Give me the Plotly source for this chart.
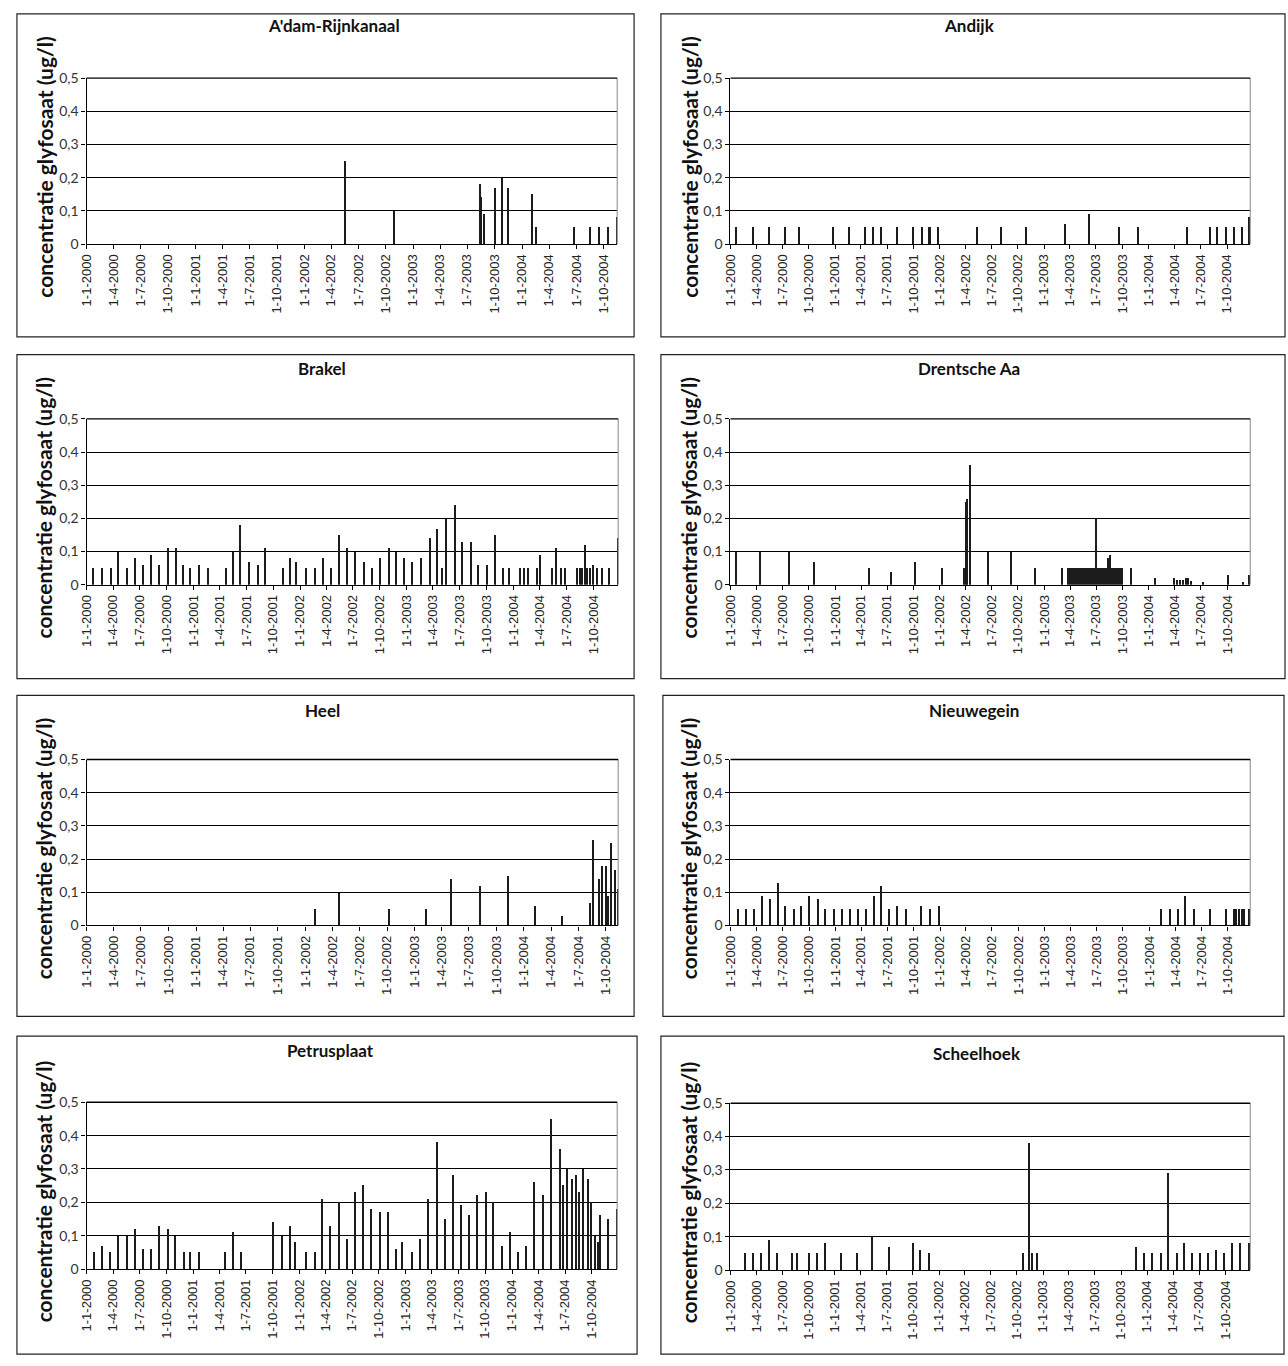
import plotly.graph_objects as go
from datetime import datetime

W, H = 1288, 1366

# ---------------- data ----------------
x_tick_labels = ["1-1-2000", "1-4-2000", "1-7-2000", "1-10-2000",
                 "1-1-2001", "1-4-2001", "1-7-2001", "1-10-2001",
                 "1-1-2002", "1-4-2002", "1-7-2002", "1-10-2002",
                 "1-1-2003", "1-4-2003", "1-7-2003", "1-10-2003",
                 "1-1-2004", "1-4-2004", "1-7-2004", "1-10-2004"]
y_tick_values = [0, 0.1, 0.2, 0.3, 0.4, 0.5]
y_tick_labels = ["0", "0,1", "0,2", "0,3", "0,4", "0,5"]

stations = ["A'dam-Rijnkanaal", "Andijk", "Brakel", "Drentsche Aa",
            "Heel", "Nieuwegein", "Petrusplaat", "Scheelhoek"]

adam_dates = ["2002-05-16", "2002-10-29", "2003-08-11", "2003-08-17", "2003-08-25",
              "2003-10-01", "2003-10-24", "2003-11-14", "2004-02-04", "2004-02-16",
              "2004-06-21", "2004-08-16", "2004-09-13", "2004-10-14", "2004-11-13"]
adam_values = [0.25, 0.10, 0.18, 0.14, 0.09, 0.17, 0.20, 0.17, 0.15, 0.05,
               0.05, 0.05, 0.05, 0.05, 0.08]

andijk_dates = ["2000-01-23", "2000-03-21", "2000-05-16", "2000-07-12", "2000-08-31",
                "2000-12-28", "2001-02-19", "2001-04-18", "2001-05-14", "2001-06-12",
                "2001-08-08", "2001-10-02", "2001-11-02", "2001-11-27", "2001-12-01",
                "2001-12-30", "2002-05-13", "2002-08-06", "2002-10-31", "2003-03-17",
                "2003-06-10", "2003-09-21", "2003-11-27", "2004-05-15", "2004-08-05",
                "2004-08-31", "2004-09-30", "2004-10-26", "2004-11-23", "2004-12-20"]
andijk_values = [0.05, 0.05, 0.05, 0.05, 0.05, 0.05, 0.05, 0.05, 0.05, 0.05,
                 0.05, 0.05, 0.05, 0.05, 0.05, 0.05, 0.05, 0.05, 0.05, 0.06,
                 0.09, 0.05, 0.05, 0.05, 0.05, 0.05, 0.05, 0.05, 0.05, 0.08]

brakel_dates = ["2000-01-22", "2000-02-22", "2000-03-23", "2000-04-18", "2000-05-18",
                "2000-06-14", "2000-07-11", "2000-08-09", "2000-09-05", "2000-10-05",
                "2000-11-02", "2000-11-27", "2000-12-19", "2001-01-20", "2001-02-19",
                "2001-04-20", "2001-05-15", "2001-06-10", "2001-07-10", "2001-08-09",
                "2001-09-03", "2001-11-01", "2001-11-27", "2001-12-16", "2002-01-20",
                "2002-02-20", "2002-03-21", "2002-04-15", "2002-05-15", "2002-06-10",
                "2002-07-08", "2002-08-07", "2002-09-02", "2002-10-02", "2002-10-31",
                "2002-11-25", "2002-12-22", "2003-01-20", "2003-02-19", "2003-03-21",
                "2003-04-15", "2003-05-02", "2003-05-15", "2003-06-13", "2003-07-08",
                "2003-08-07", "2003-09-02", "2003-10-02", "2003-10-31", "2003-11-25",
                "2003-12-17", "2004-01-24", "2004-02-05", "2004-02-19", "2004-03-21",
                "2004-04-01", "2004-05-13", "2004-05-25", "2004-06-10", "2004-06-25",
                "2004-08-05", "2004-08-14", "2004-08-23", "2004-08-31", "2004-09-07",
                "2004-09-17", "2004-09-29", "2004-10-13", "2004-10-31", "2004-11-24",
                "2004-12-24"]
brakel_values = [0.05, 0.05, 0.05, 0.10, 0.05, 0.08, 0.06, 0.09, 0.06, 0.11,
                 0.11, 0.06, 0.05, 0.06, 0.05, 0.05, 0.10, 0.18, 0.07, 0.06,
                 0.11, 0.05, 0.08, 0.07, 0.05, 0.05, 0.08, 0.05, 0.15, 0.11,
                 0.10, 0.07, 0.05, 0.08, 0.11, 0.10, 0.08, 0.07, 0.08, 0.14,
                 0.17, 0.05, 0.20, 0.24, 0.13, 0.13, 0.06, 0.06, 0.15, 0.05,
                 0.05, 0.05, 0.05, 0.05, 0.05, 0.09, 0.05, 0.11, 0.05, 0.05,
                 0.05, 0.05, 0.05, 0.12, 0.05, 0.05, 0.06, 0.05, 0.05, 0.05,
                 0.14]

drentsche_dates = ["2000-01-23", "2000-04-16", "2000-07-27", "2000-10-19", "2001-04-29",
                   "2001-07-18", "2001-10-08", "2002-01-11", "2002-03-28", "2002-04-03",
                   "2002-04-08", "2002-04-18", "2002-06-20", "2002-09-08", "2002-12-01",
                   "2003-03-05", "2003-03-27", "2003-04-03", "2003-04-10", "2003-04-17",
                   "2003-04-24", "2003-05-01", "2003-05-08", "2003-05-15", "2003-05-22",
                   "2003-05-29", "2003-06-05", "2003-06-12", "2003-06-19", "2003-06-26",
                   "2003-07-03", "2003-07-10", "2003-07-17", "2003-07-24", "2003-07-31",
                   "2003-08-07", "2003-08-14", "2003-08-21", "2003-08-28", "2003-09-04",
                   "2003-09-11", "2003-09-18", "2003-09-25", "2003-10-02", "2003-10-31",
                   "2004-01-24", "2004-04-01", "2004-04-09", "2004-04-19", "2004-05-01",
                   "2004-05-11", "2004-05-20", "2004-05-30", "2004-07-10", "2004-10-04",
                   "2004-11-26", "2004-12-19"]
drentsche_values = [0.10, 0.10, 0.10, 0.07, 0.05, 0.04, 0.07, 0.05, 0.05, 0.25,
                    0.26, 0.36, 0.10, 0.10, 0.05, 0.05, 0.05, 0.05, 0.05, 0.05,
                    0.05, 0.05, 0.05, 0.05, 0.05, 0.05, 0.05, 0.05, 0.05, 0.05,
                    0.20, 0.05, 0.05, 0.05, 0.05, 0.05, 0.08, 0.09, 0.05, 0.05,
                    0.05, 0.05, 0.05, 0.05, 0.05, 0.02, 0.02, 0.015, 0.015, 0.015,
                    0.02, 0.02, 0.012, 0.01, 0.03, 0.01, 0.03]

heel_dates = ["2002-02-02", "2002-04-22", "2002-10-07", "2003-02-07", "2003-05-02",
              "2003-08-07", "2003-11-09", "2004-02-07", "2004-05-08", "2004-08-07",
              "2004-08-19", "2004-09-06", "2004-09-16", "2004-09-29", "2004-10-08",
              "2004-10-17", "2004-10-29", "2004-11-08"]
heel_values = [0.05, 0.10, 0.05, 0.05, 0.14, 0.12, 0.15, 0.06, 0.03, 0.07,
               0.26, 0.14, 0.18, 0.18, 0.09, 0.25, 0.17, 0.11]

nieuwegein_dates = ["2000-01-29", "2000-02-25", "2000-03-24", "2000-04-24", "2000-05-19",
                    "2000-06-17", "2000-07-13", "2000-08-12", "2000-09-07", "2000-10-04",
                    "2000-11-02", "2000-11-28", "2000-12-29", "2001-01-25", "2001-02-22",
                    "2001-03-23", "2001-04-19", "2001-05-17", "2001-06-13", "2001-07-11",
                    "2001-08-07", "2001-09-05", "2001-10-30", "2001-11-30", "2001-12-30",
                    "2004-02-13", "2004-03-15", "2004-04-14", "2004-05-08", "2004-06-08",
                    "2004-08-01", "2004-09-26", "2004-10-24", "2004-11-02", "2004-11-10",
                    "2004-11-20", "2004-11-29", "2004-12-17"]
nieuwegein_values = [0.05, 0.05, 0.05, 0.09, 0.08, 0.13, 0.06, 0.05, 0.06, 0.09,
                     0.08, 0.05, 0.05, 0.05, 0.05, 0.05, 0.05, 0.09, 0.12, 0.05,
                     0.06, 0.05, 0.06, 0.05, 0.06, 0.05, 0.05, 0.05, 0.09, 0.05,
                     0.05, 0.05, 0.05, 0.05, 0.05, 0.05, 0.05, 0.05]

petrusplaat_dates = ["2000-01-27", "2000-02-21", "2000-03-22", "2000-04-18", "2000-05-18",
                     "2000-06-15", "2000-07-11", "2000-08-10", "2000-09-06", "2000-10-06",
                     "2000-10-31", "2000-11-29", "2000-12-21", "2001-01-22", "2001-04-20",
                     "2001-05-17", "2001-06-13", "2001-09-30", "2001-11-01", "2001-11-30",
                     "2001-12-16", "2002-01-24", "2002-02-21", "2002-03-20", "2002-04-16",
                     "2002-05-16", "2002-06-12", "2002-07-09", "2002-08-08", "2002-09-03",
                     "2002-10-03", "2002-10-31", "2002-11-27", "2002-12-19", "2003-01-21",
                     "2003-02-19", "2003-03-19", "2003-04-18", "2003-05-15", "2003-06-11",
                     "2003-07-09", "2003-08-07", "2003-09-03", "2003-10-01", "2003-10-27",
                     "2003-11-26", "2003-12-24", "2004-01-22", "2004-02-17", "2004-03-17",
                     "2004-04-16", "2004-05-13", "2004-06-12", "2004-06-24", "2004-07-06",
                     "2004-07-24", "2004-08-05", "2004-08-17", "2004-08-31", "2004-09-16",
                     "2004-09-28", "2004-10-10", "2004-10-22", "2004-10-29", "2004-11-25",
                     "2004-12-24"]
petrusplaat_values = [0.05, 0.07, 0.05, 0.10, 0.10, 0.12, 0.06, 0.06, 0.13, 0.12,
                      0.10, 0.05, 0.05, 0.05, 0.05, 0.11, 0.05, 0.14, 0.10, 0.13,
                      0.08, 0.05, 0.05, 0.21, 0.13, 0.20, 0.09, 0.23, 0.25, 0.18,
                      0.17, 0.17, 0.06, 0.08, 0.05, 0.09, 0.21, 0.38, 0.15, 0.28,
                      0.19, 0.16, 0.22, 0.23, 0.20, 0.07, 0.11, 0.05, 0.07, 0.26,
                      0.22, 0.45, 0.36, 0.25, 0.30, 0.27, 0.28, 0.23, 0.30, 0.27,
                      0.20, 0.10, 0.08, 0.16, 0.15, 0.18]

scheelhoek_dates = ["2000-02-22", "2000-03-24", "2000-04-19", "2000-05-16", "2000-06-14",
                    "2000-08-05", "2000-08-24", "2000-10-06", "2000-11-02", "2000-12-01",
                    "2001-01-25", "2001-03-22", "2001-05-15", "2001-07-12", "2001-10-04",
                    "2001-10-29", "2001-11-29", "2002-10-24", "2002-11-14", "2002-11-27",
                    "2002-12-12", "2003-11-25", "2003-12-23", "2004-01-19", "2004-02-19",
                    "2004-03-16", "2004-04-15", "2004-05-11", "2004-06-07", "2004-07-06",
                    "2004-08-04", "2004-09-02", "2004-09-27", "2004-10-28", "2004-11-24",
                    "2004-12-25"]
scheelhoek_values = [0.05, 0.05, 0.05, 0.09, 0.05, 0.05, 0.05, 0.05, 0.05, 0.08,
                     0.05, 0.05, 0.10, 0.07, 0.08, 0.06, 0.05, 0.05, 0.38, 0.05,
                     0.05, 0.07, 0.05, 0.05, 0.05, 0.29, 0.05, 0.08, 0.05, 0.05,
                     0.05, 0.06, 0.05, 0.08, 0.08, 0.08]

series_dates = [adam_dates, andijk_dates, brakel_dates, drentsche_dates,
                heel_dates, nieuwegein_dates, petrusplaat_dates, scheelhoek_dates]
series_values = [adam_values, andijk_values, brakel_values, drentsche_values,
                 heel_values, nieuwegein_values, petrusplaat_values, scheelhoek_values]

# last date shown on each date axis
axis_end = ["2004-11-15", "2004-12-21", "2004-12-25", "2004-12-20",
            "2004-11-11", "2004-12-18", "2004-12-27", "2004-12-27"]

# ---------------- layout (page pixels) ----------------
boxes = [(9, 5, 630, 332), (657, 5, 1285, 332),
         (9, 350, 630, 678), (657, 350, 1285, 678),
         (9, 695, 630, 1020), (659, 695, 1284, 1020),
         (9, 1040, 633, 1362), (657, 1040, 1284, 1362)]
plots = [(79, 613, 70, 238), (727, 1250, 70, 238),
         (79, 614, 415, 583), (727, 1250, 415, 583),
         (79, 614, 760, 928), (727, 1250, 760, 928),
         (79, 613, 1107, 1276), (727, 1250, 1108, 1277)]
titles_xy = [(328, 17), (968, 17), (316, 364), (967, 364),
             (316, 710), (972, 710), (325, 1055), (975, 1058)]
ytitle_x = [36, 685, 36, 685, 36, 685, 36, 685]
bar_days = [5, 5, 5, 4, 5, 5, 5, 5]

x_tick_dates = [datetime.strptime(s, "%d-%m-%Y").strftime("%Y-%m-%d") for s in x_tick_labels]


def px(x):
    return x / W


def py(y):
    return 1 - y / H


fig = go.Figure()
shapes = []
annotations = []
DAY = 86400000
layout_axes = {}
FONT = "Lato, Open Sans, sans-serif"

for i in range(8):
    n = "" if i == 0 else str(i + 1)
    xa, ya = "x" + n, "y" + n
    fig.add_trace(go.Bar(
        x=series_dates[i], y=series_values[i],
        xaxis=xa, yaxis=ya,
        width=bar_days[i] * DAY,
        marker=dict(color="#1c1c1c", line=dict(width=0)),
        showlegend=False,
    ))
    bx0, by0, bx1, by1 = boxes[i]
    x0, x1, yt, yb = plots[i]
    layout_axes["xaxis" + n] = dict(
        domain=[px(x0), px(x1)], anchor=ya, type="date",
        range=["2000-01-01", axis_end[i]],
        tickmode="array", tickvals=x_tick_dates, ticktext=x_tick_labels,
        tickangle=-90, ticks="outside", ticklen=4, tickcolor="black", tickwidth=1,
        showline=True, linecolor="black", linewidth=1.2,
        showgrid=False, zeroline=False,
        tickfont=dict(family="Liberation Sans, Arial", size=13, color="#222"),
        fixedrange=True,
    )
    layout_axes["yaxis" + n] = dict(
        domain=[py(yb), py(yt)], anchor=xa,
        range=[0, 0.5],
        tickmode="array", tickvals=y_tick_values, ticktext=y_tick_labels,
        ticks="outside", ticklen=4, tickcolor="black", tickwidth=1,
        showline=True, linecolor="black", linewidth=1.2,
        showgrid=True, gridcolor="black", gridwidth=1.4,
        zeroline=False,
        tickfont=dict(family=FONT, size=14, color="#333"),
        fixedrange=True,
    )
    # panel box
    shapes.append(dict(type="rect", xref="paper", yref="paper",
                       x0=px(bx0), x1=px(bx1), y0=py(by1), y1=py(by0),
                       line=dict(color="#222", width=1.2), layer="below"))
    # plot area border
    shapes.append(dict(type="line", xref="paper", yref="paper",
                       x0=px(x1), x1=px(x1), y0=py(yb), y1=py(yt),
                       line=dict(color="#888", width=1), layer="above"))
    shapes.append(dict(type="line", xref="paper", yref="paper",
                       x0=px(x0), x1=px(x1), y0=py(yt), y1=py(yt),
                       line=dict(color="black", width=1.4), layer="above"))
    tx, ty = titles_xy[i]
    annotations.append(dict(text="<b>" + stations[i] + "</b>", x=px(tx), y=py(ty),
                            xref="paper", yref="paper", xanchor="center", yanchor="middle",
                            showarrow=False,
                            font=dict(family=FONT, size=17, color="#111")))
    annotations.append(dict(text="<b>concentratie glyfosaat (ug/l)</b>",
                            x=px(ytitle_x[i]), y=py((yt + yb) / 2 + 6),
                            xref="paper", yref="paper", xanchor="center", yanchor="middle",
                            textangle=-90, showarrow=False,
                            font=dict(family=FONT, size=21, color="#111")))

fig.update_layout(
    width=W, height=H,
    margin=dict(l=0, r=0, t=0, b=0),
    paper_bgcolor="white", plot_bgcolor="white",
    bargap=0,
    shapes=shapes, annotations=annotations,
    **layout_axes,
)

# remove the default page margin so the figure fills the window exactly
fig.write_html(
    "out.html",
    config={"displayModeBar": False},
    post_script="document.body.style.margin='0';"
                "document.body.style.overflow='hidden';"
                "document.documentElement.style.overflow='hidden';",
)
